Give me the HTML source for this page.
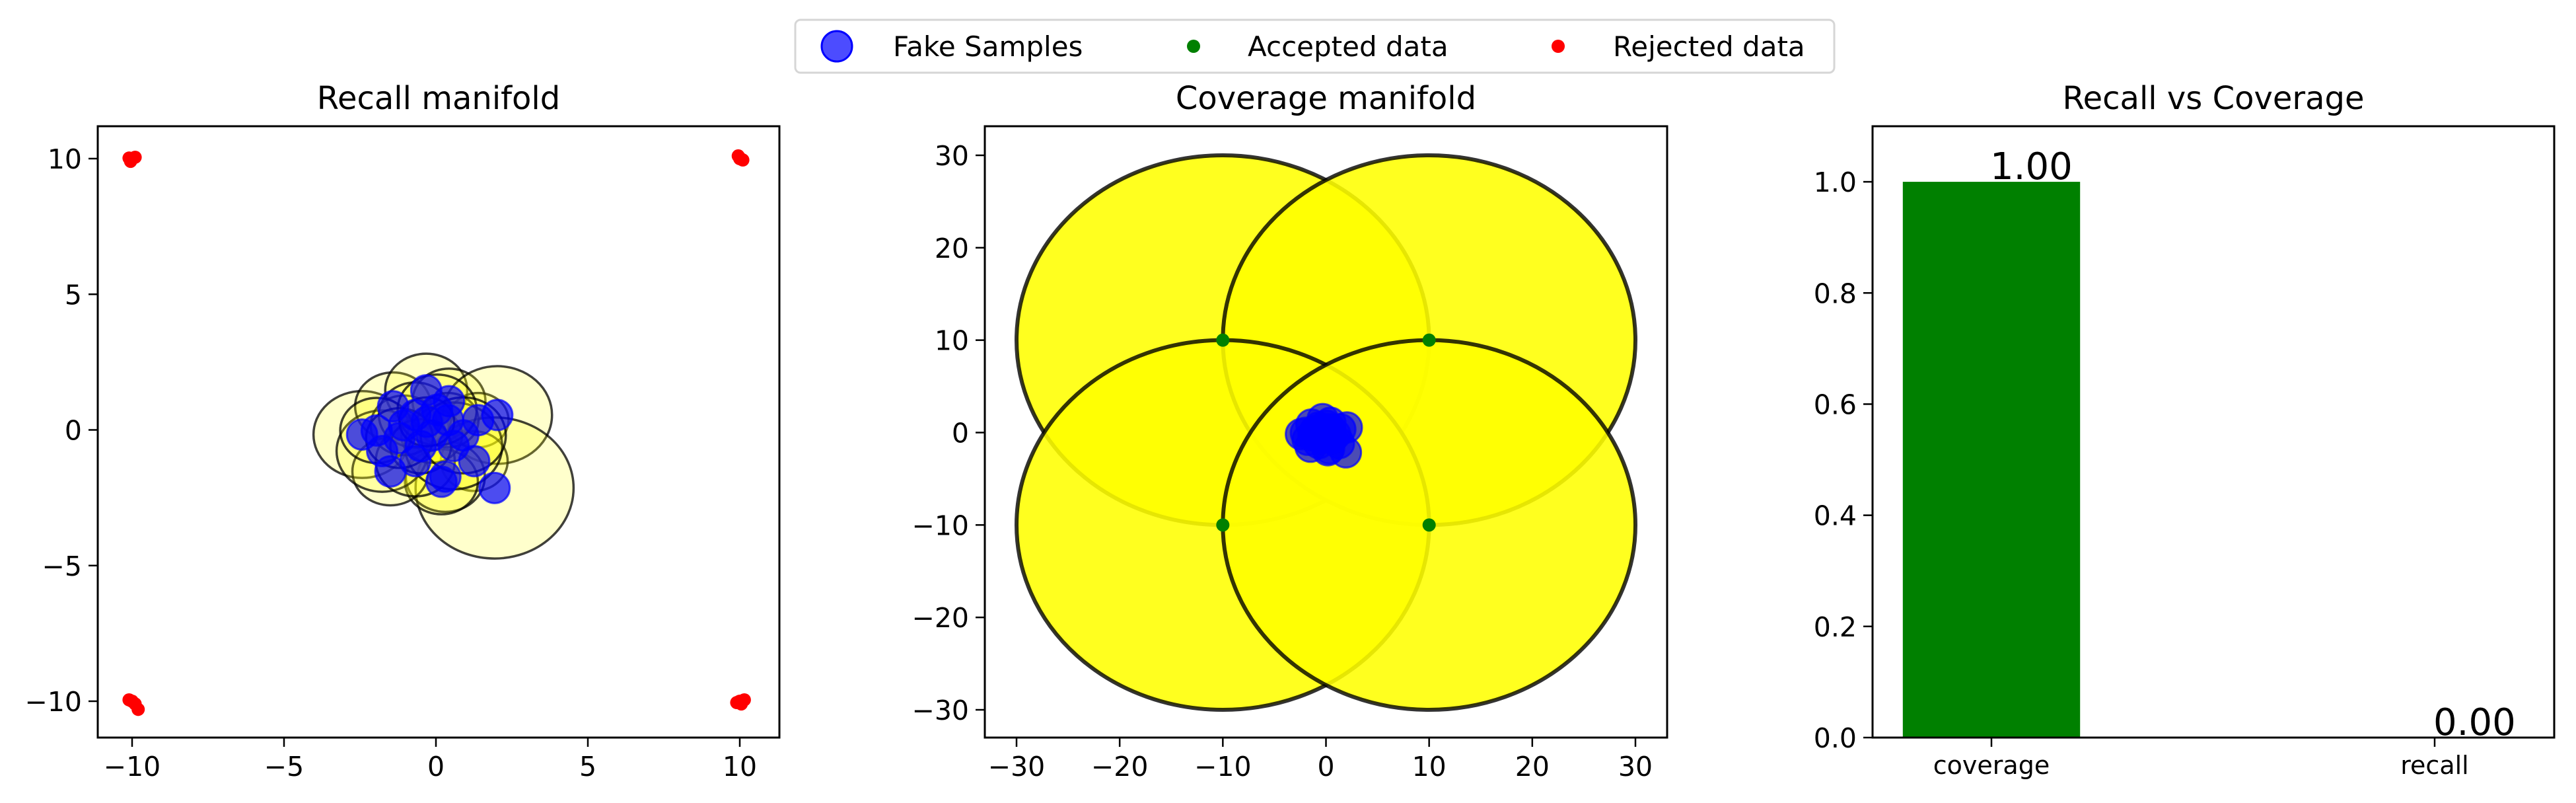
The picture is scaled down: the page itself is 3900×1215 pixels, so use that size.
<!DOCTYPE html>
<html><head><meta charset="utf-8"><style>
html,body{margin:0;padding:0;background:#fff;}
svg{display:block;font-family:"DejaVu Sans","Liberation Sans",sans-serif;}
</style></head><body>
<svg id="fig" width="3900" height="1215" viewBox="0 0 3900 1215" xmlns="http://www.w3.org/2000/svg">
<rect width="3900" height="1215" fill="#fff"/>
<defs>
<clipPath id="c1"><rect x="148" y="191" width="1032" height="925"/></clipPath>
<clipPath id="c2"><rect x="1491" y="191" width="1033" height="925"/></clipPath>
</defs>
<g id="p1"></g>
<g id="p2"></g>
<g id="p3"></g>
<g id="legend">
<rect x="1204" y="30" width="1573" height="80" rx="8" fill="#fff" stroke="#d6d6d6" stroke-width="3"/>
<circle cx="1267" cy="70" r="23" fill="#0000ff" fill-opacity="0.7" stroke="#0000ff" stroke-width="3"/>
<text x="1352" y="85" font-size="42">Fake Samples</text>
<circle cx="1807" cy="70" r="10" fill="#008000"/>
<text x="1889" y="85" font-size="42">Accepted data</text>
<circle cx="2359" cy="70" r="10" fill="#ff0000"/>
<text x="2442" y="85" font-size="42">Rejected data</text>
</g>
</svg>
<script>
// ---- data ----
const fakeX = [-2.43,-1.41,-0.32,0.43,1.39,2.02,1.26,1.93,0.31,0.18,-1.50,-1.77,-0.68,-0.14,-1.05,-0.68,0.40,0.58,-1.95,-0.50,0.04,-1.2,0.9,-0.3];
const fakeY = [-0.17,0.87,1.46,1.06,0.36,0.55,-1.15,-2.14,-1.72,-1.91,-1.53,-0.78,-1.15,-0.21,0.17,0.55,0.36,-0.59,-0.02,-0.60,0.74,-0.3,-0.2,0.3];
const fakeR = [1.6,1.25,1.35,1.2,1.0,1.8,1.1,2.6,1.3,1.2,1.25,1.5,1.3,1.0,1.1,1.2,1.0,1.6,1.2,1.0,1.3,1.1,1.4,0.9];
const realX = [-10,-10.05,-9.9,-10.1,10,9.95,10.1,10.05,-10,-9.9,-10.1,-9.8,10,9.9,10.15,10.05];
const realY = [10,9.9,10.05,10.02,10,10.1,9.95,9.98,-10,-10.1,-9.95,-10.3,-10,-10.05,-9.95,-10.1];
const covX = [-10,10,-10,10];
const covY = [10,10,-10,-10];
const covR = [20,20,20,20];
const barCats = ["coverage","recall"];
const barVals = [1.00,0.00];
const barColors = ["#008000","#008000"];
const ticks1 = [-10,-5,0,5,10];
const ticks2 = [-30,-20,-10,0,10,20,30];
const ticks3 = [0.0,0.2,0.4,0.6,0.8,1.0];

const NS="http://www.w3.org/2000/svg";
function mk(parent,tag,attrs,text){const e=document.createElementNS(NS,tag);for(const k in attrs)e.setAttribute(k,attrs[k]);if(text!==undefined)e.textContent=text;parent.appendChild(e);return e;}
function lin(d0,d1,r0,r1){return v=>r0+(v-d0)/(d1-d0)*(r1-r0);}
function fmt(v,dec){const s=dec?v.toFixed(dec):String(v);return s.replace('-','\u2212');}

function axes(g,L,T,R,B,sx,sy,xt,yt,title,xdec,ydec){
  for(const v of xt){const x=sx(v);
    const t=mk(g,'line',{x1:x,x2:x,y1:B,y2:B+14,stroke:'#000','stroke-width':2.5});
    
    const l=mk(g,'text',{x:x,y:B+58,'font-size':41,'text-anchor':'middle'},fmt(v,xdec));
    }
  for(const v of yt){const y=sy(v);
    const t=mk(g,'line',{x1:L-14,x2:L,y1:y,y2:y,stroke:'#000','stroke-width':2.5});
    
    const l=mk(g,'text',{x:L-24,y:y+15,'font-size':41,'text-anchor':'end'},fmt(v,ydec));
    }
  const f=mk(g,'rect',{x:L,y:T,width:R-L,height:B-T,fill:'none',stroke:'#000','stroke-width':3});
  
  const tt=mk(g,'text',{x:(L+R)/2,y:T-26,'font-size':48,'text-anchor':'middle'},title);
  
}

const T0=191,B0=1116;

// Panel 1
(function(){
  const g=document.getElementById('p1');
  const L=148,R=1180;
  const sx=lin(-10,10,200,1120), sy=lin(10,-10,240,1061);
  const pl=mk(g,'g',{'clip-path':'url(#c1)'});
  for(let i=0;i<fakeX.length;i++){
    const c=mk(pl,'ellipse',{cx:sx(fakeX[i]),cy:sy(fakeY[i]),rx:Math.abs(sx(fakeR[i])-sx(0)),ry:Math.abs(sy(fakeR[i])-sy(0)),fill:'#ffff00','fill-opacity':0.2,stroke:'#000','stroke-opacity':0.75,'stroke-width':3.5});
    }
  for(let i=0;i<realX.length;i++){
    const c=mk(pl,'circle',{cx:sx(realX[i]),cy:sy(realY[i]),r:10,fill:'#ff0000'});
    }
  for(let i=0;i<fakeX.length;i++){
    const c=mk(pl,'circle',{cx:sx(fakeX[i]),cy:sy(fakeY[i]),r:23,fill:'#0000ff','fill-opacity':0.7,stroke:'#0000ff','stroke-opacity':0.7,'stroke-width':3});
    }
  axes(g,L,T0,R,B0,sx,sy,ticks1,ticks1,'Recall manifold');
})();

// Panel 2
(function(){
  const g=document.getElementById('p2');
  const L=1491,R=2524;
  const sx=lin(-30,30,1539,2476), sy=lin(30,-30,235,1074);
  const pl=mk(g,'g',{'clip-path':'url(#c2)'});
  for(let i=0;i<covX.length;i++){
    const c=mk(pl,'ellipse',{cx:sx(covX[i]),cy:sy(covY[i]),rx:Math.abs(sx(covR[i])-sx(0)),ry:Math.abs(sy(covR[i])-sy(0)),fill:'#ffff00','fill-opacity':0.88,stroke:'#000','stroke-opacity':0.8,'stroke-width':6});
    }
  for(let i=0;i<covX.length;i++){
    const c=mk(pl,'circle',{cx:sx(covX[i]),cy:sy(covY[i]),r:10,fill:'#008000'});
    }
  for(let i=0;i<fakeX.length;i++){
    const c=mk(pl,'circle',{cx:sx(fakeX[i]),cy:sy(fakeY[i]),r:23,fill:'#0000ff','fill-opacity':0.7,stroke:'#0000ff','stroke-opacity':0.7,'stroke-width':3});
    }
  axes(g,L,T0,R,B0,sx,sy,ticks2,ticks2,'Coverage manifold');
})();

// Panel 3
(function(){
  const g=document.getElementById('p3');
  const L=2835,R=3867;
  const sx=lin(0,1,3015,3686), sy=lin(0,1.1,B0,T0);
  const bw=0.4;
  for(let i=0;i<barCats.length;i++){
    const x0=sx(i-bw/2),x1=sx(i+bw/2),y=sy(barVals[i]);
    const r=mk(g,'rect',{x:x0,y:y,width:x1-x0,height:sy(0)-y,fill:barColors[i]});
    
    const t=mk(g,'text',{x:sx(i+0.09),y:y-4,'font-size':56,'text-anchor':'middle'},barVals[i].toFixed(2));
    
  }
  axes(g,L,T0,R,B0,v=>sx(v),sy,[],ticks3,'Recall vs Coverage',0,1);
  for(let i=0;i<barCats.length;i++){const x=sx(i);
    const t=mk(g,'line',{x1:x,x2:x,y1:B0,y2:B0+14,stroke:'#000','stroke-width':2.5});
    
    const l=mk(g,'text',{x:x,y:B0+55,'font-size':38,'text-anchor':'middle'},barCats[i]);
    }
})();
</script>
</body></html>
